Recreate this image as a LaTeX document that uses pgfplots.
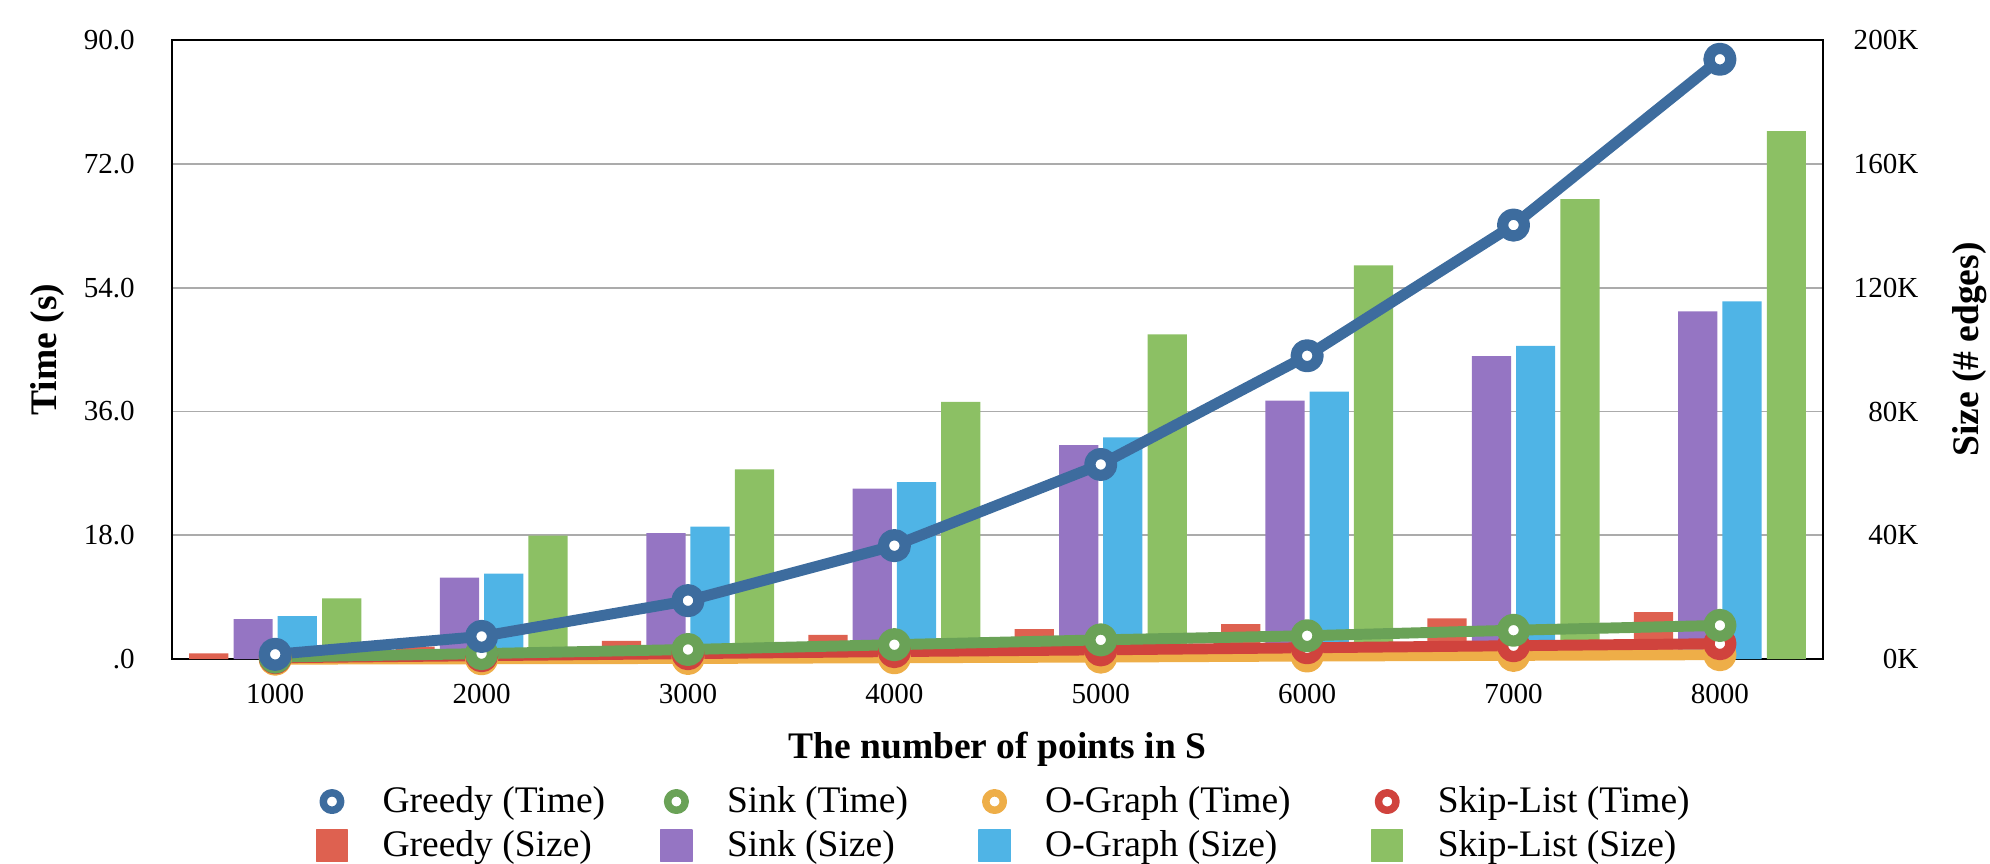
\documentclass[border=0pt]{standalone}
\usepackage{fontspec}
\setmainfont{Liberation Serif}
\usepackage{pgfplots}
\pgfplotsset{compat=1.18}
\definecolor{cGreedyT}{HTML}{3D6C9E}
\definecolor{cSinkT}{HTML}{6AA257}
\definecolor{cOGT}{HTML}{EEAE48}
\definecolor{cSkipT}{HTML}{D0433D}
\definecolor{cGreedyS}{HTML}{DE6150}
\definecolor{cSinkS}{HTML}{9575C3}
\definecolor{cOGS}{HTML}{4FB4E6}
\definecolor{cSkipS}{HTML}{8CC064}
\begin{document}
\begin{tikzpicture}
\useasboundingbox (-55.04pt,-65.28pt) rectangle (581.7pt,210.9pt);
% ---------- bars (right axis, size) ----------
\begin{axis}[
  at={(0,0)}, anchor=south west,
  scale only axis, width=528.3pt, height=198.1pt,
  xmin=500, xmax=8500, ymin=0, ymax=200,
  xtick={1000,2000,3000,4000,5000,6000,7000,8000},
  xticklabels={1000,2000,3000,4000,5000,6000,7000,8000},
  ytick={0,40,80,120,160,200},
  yticklabels={0K,40K,80K,120K,160K,200K},
  yticklabel pos=right,
  ymajorgrids, grid style={color=black!33, line width=0.6pt},
  major tick length=0pt,
  axis line style={line width=0.8pt, black},
  /pgf/number format/assume math mode=true,
  ticklabel style={font=\fontsize{9.3}{11}\selectfont},
  xticklabel style={yshift=-4.6pt},
  yticklabel style={anchor=east, xshift=34pt},
  ylabel={Size (\# edges)},
  ylabel style={at={(axis description cs:1.089,0.5)}, anchor=center, rotate=0, font=\fontsize{12}{14}\selectfont\bfseries},
  xlabel={The number of points in S},
  xlabel style={at={(axis description cs:0.5,-0.145)}, anchor=center, font=\fontsize{12}{14}\selectfont\bfseries},
]
\addplot[ybar, bar width=190, bar shift=-322, fill=cGreedyS, draw=none] coordinates
 {(1000,1.9) (2000,4.0) (3000,5.9) (4000,7.8) (5000,9.7) (6000,11.3) (7000,13.2) (8000,15.2)};
\addplot[ybar, bar width=190, bar shift=-107, fill=cSinkS, draw=none] coordinates
 {(1000,12.9) (2000,26.3) (3000,40.7) (4000,55.1) (5000,69.1) (6000,83.5) (7000,97.9) (8000,112.3)};
\addplot[ybar, bar width=190, bar shift=107, fill=cOGS, draw=none] coordinates
 {(1000,13.9) (2000,27.6) (3000,42.8) (4000,57.2) (5000,71.6) (6000,86.4) (7000,101.2) (8000,115.6)};
\addplot[ybar, bar width=190, bar shift=322, fill=cSkipS, draw=none] coordinates
 {(1000,19.6) (2000,39.9) (3000,61.3) (4000,83.1) (5000,104.9) (6000,127.2) (7000,148.6) (8000,170.6)};
\end{axis}
% ---------- lines (left axis, time) ----------
\begin{axis}[
  at={(0,0)}, anchor=south west,
  scale only axis, width=528.3pt, height=198.1pt,
  xmin=500, xmax=8500, ymin=0, ymax=90,
  axis y line*=left, hide x axis,
  ytick={0,18,36,54,72,90},
  yticklabels={.0,18.0,36.0,54.0,72.0,90.0},
  major tick length=0pt,
  axis line style={line width=0.8pt, black},
  /pgf/number format/assume math mode=true,
  ticklabel style={font=\fontsize{9.3}{11}\selectfont},
  yticklabel style={xshift=-8.4pt},
  clip=false,
  ylabel={Time (s)},
  ylabel style={at={(axis description cs:-0.0757,0.5)}, anchor=center, font=\fontsize{12}{14}\selectfont\bfseries},
  legend columns=4,
  legend cell align=left,
  legend style={at={(axis description cs:0.505,-0.184)}, anchor=north, draw=none, fill=none,
    font=\fontsize{12}{13}\selectfont, row sep=0.3pt,
    /tikz/every odd column/.append style={column sep=9pt},
    /tikz/every even column/.append style={column sep=14pt}},
  every axis plot/.append style={line join=round, line cap=round},
]
\addplot[forget plot, color=cOGT, line width=3.5pt, mark=*, mark size=3.5pt, mark options={fill=white, line width=3.6pt}] coordinates
 {(1000,0.0) (2000,0.05) (3000,0.1) (4000,0.2) (5000,0.3) (6000,0.45) (7000,0.55) (8000,0.65)};
\addplot[forget plot, color=cSkipT, line width=3.5pt, mark=*, mark size=3.5pt, mark options={fill=white, line width=3.6pt}] coordinates
 {(1000,0.2) (2000,0.5) (3000,0.8) (4000,1.1) (5000,1.35) (6000,1.65) (7000,1.95) (8000,2.25)};
\addplot[forget plot, color=cSinkT, line width=3.5pt, mark=*, mark size=3.5pt, mark options={fill=white, line width=3.6pt}] coordinates
 {(1000,0.3) (2000,0.8) (3000,1.4) (4000,2.1) (5000,2.8) (6000,3.4) (7000,4.2) (8000,4.9)};
\addplot[forget plot, color=cGreedyT, line width=3.5pt, mark=*, mark size=3.5pt, mark options={fill=white, line width=3.6pt}] coordinates
 {(1000,0.7) (2000,3.3) (3000,8.5) (4000,16.5) (5000,28.3) (6000,44.1) (7000,63.1) (8000,87.2)};
\addlegendimage{legend image code/.code={\draw[cGreedyT, line width=2.4pt, fill=white] (0pt,0pt) circle (2.8pt);}}
\addlegendentry{Greedy (Time)\rule{1.6pt}{0pt}}
\addlegendimage{legend image code/.code={\draw[cSinkT, line width=2.4pt, fill=white] (0pt,0pt) circle (2.8pt);}}
\addlegendentry{Sink (Time)\rule{6.5pt}{0pt}}
\addlegendimage{legend image code/.code={\draw[cOGT, line width=2.4pt, fill=white] (0pt,0pt) circle (2.8pt);}}
\addlegendentry{O-Graph (Time)\rule{9.7pt}{0pt}}
\addlegendimage{legend image code/.code={\draw[cSkipT, line width=2.4pt, fill=white] (0pt,0pt) circle (2.8pt);}}
\addlegendentry{Skip-List (Time)}
\addlegendimage{legend image code/.code={\fill[cGreedyS] (-5pt,-5pt) rectangle (5pt,5pt);}}
\addlegendentry{Greedy (Size)}
\addlegendimage{legend image code/.code={\fill[cSinkS] (-5pt,-5pt) rectangle (5pt,5pt);}}
\addlegendentry{Sink (Size)}
\addlegendimage{legend image code/.code={\fill[cOGS] (-5pt,-5pt) rectangle (5pt,5pt);}}
\addlegendentry{O-Graph (Size)}
\addlegendimage{legend image code/.code={\fill[cSkipS] (-5pt,-5pt) rectangle (5pt,5pt);}}
\addlegendentry{Skip-List (Size)}
\end{axis}
\end{tikzpicture}
\end{document}
